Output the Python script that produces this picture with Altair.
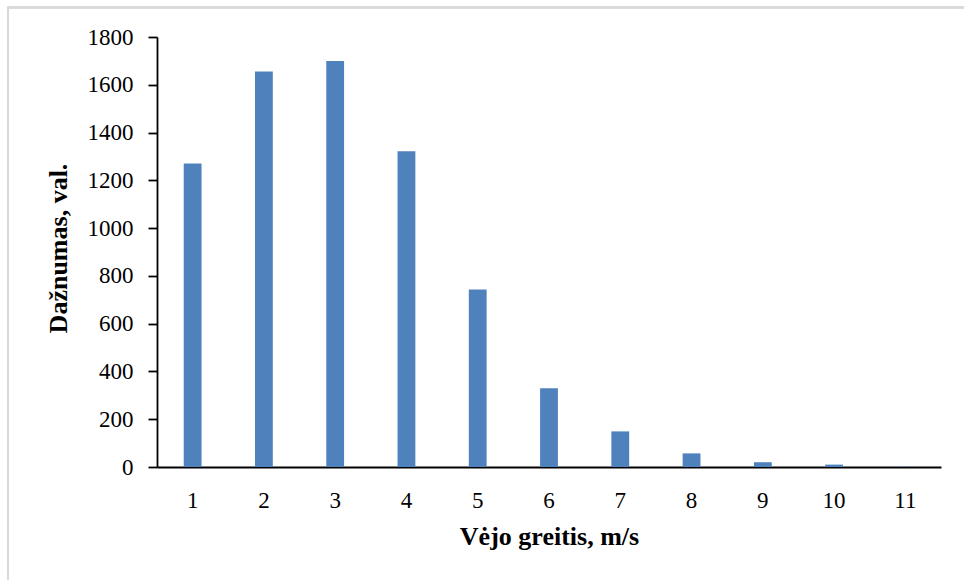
import altair as alt
import pandas as pd

# Wind speed classes (m/s) and their frequency (hours)
speeds = [1, 2, 3, 4, 5, 6, 7, 8, 9, 10, 11]
hours = [1270, 1656, 1700, 1322, 743, 330, 149, 57, 20, 10, 1]

df = pd.DataFrame({"speed": speeds, "hours": hours})

FONT = "Liberation Serif"
W, H = 784, 430
PAD_L, PAD_T = 157, 37

bars = alt.Chart(df).mark_bar(color="#4F81BD").encode(
    x=alt.X(
        "speed:O",
        sort=speeds,
        scale=alt.Scale(paddingInner=0.75, paddingOuter=0.375),
        axis=alt.Axis(
            title="Vėjo greitis, m/s",
            labelAngle=0,
            ticks=False,
            tickSize=0,
            labelBaseline="alphabetic",
            labelPadding=40,
            labelFontSize=23,
            titleFontSize=26,
            titleFontWeight="bold",
            titleX=W / 2,
            titleY=77,
            titleAlign="center",
            titleBaseline="alphabetic",
        ),
    ),
    y=alt.Y(
        "hours:Q",
        scale=alt.Scale(domain=[0, 1800], nice=False),
        axis=alt.Axis(
            title="Dažnumas, val.",
            values=list(range(0, 1801, 200)),
            format="d",
            grid=False,
            tickSize=9,
            labelPadding=15,
            labelFontSize=23,
            titleFontSize=26,
            titleFontWeight="bold",
            titleAngle=-90,
            titleX=-91,
            titleY=211,
            titleAlign="center",
            titleBaseline="alphabetic",
        ),
    ),
)

# light frame around the chart area
frame = alt.Chart(df).mark_rect(
    fill=None, stroke="#D9D9D9", strokeWidth=1.5
).encode(
    x=alt.value(8 - PAD_L),
    x2=alt.value(W + 60),
    y=alt.value(7.5 - PAD_T),
    y2=alt.value(H + 140),
)

chart = alt.layer(frame, bars).properties(
    width=W,
    height=H,
    autosize=alt.AutoSizeParams(type="none"),
    padding={"left": PAD_L, "top": PAD_T, "right": 964 - PAD_L - W, "bottom": 580 - PAD_T - H},
    background="white",
).configure_view(
    stroke=None
).configure_axis(
    labelFont=FONT,
    titleFont=FONT,
    labelColor="black",
    titleColor="black",
    domainColor="black",
    tickColor="black",
    domainWidth=1.8,
    tickWidth=1.8,
)

chart.save("out.html", embed_options={"renderer": "svg", "actions": False})
